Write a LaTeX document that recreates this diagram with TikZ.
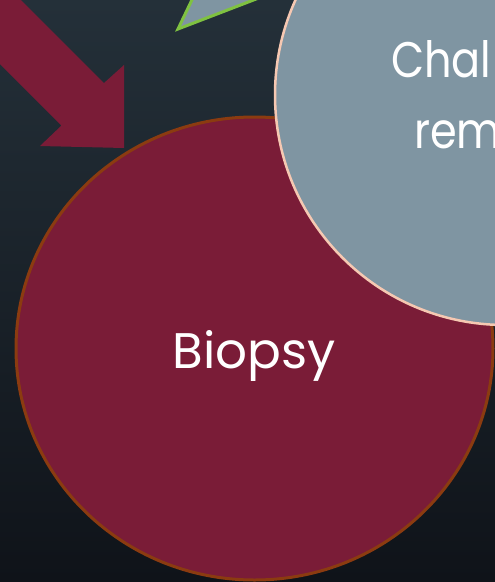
\documentclass[tikz,border=0pt]{standalone}
\usepackage{fontspec}
\setmainfont{Poppins}
\usetikzlibrary{shapes.geometric}
\definecolor{bgtop}{HTML}{243039}
\definecolor{bgbot}{HTML}{0F1319}
\definecolor{wine}{HTML}{7A1C37}
\definecolor{rust}{HTML}{8B3B10}
\definecolor{slate}{HTML}{7F95A2}
\definecolor{peach}{HTML}{F6C8B2}
\definecolor{leaf}{HTML}{7FC241}
\begin{document}
\begin{tikzpicture}[x=1pt, y=-1pt, line join=miter,
    bubble/.style={ellipse, inner sep=0pt, font=\fontsize{50}{60}\selectfont, text=white},
    word/.style={anchor=base west, inner sep=0pt, font=\fontsize{50}{60}\selectfont, text=white}]
    \useasboundingbox (0,0) rectangle (495,582);
    \clip (0,0) rectangle (495,582);
    \fill[top color=bgtop, bottom color=bgbot] (0,0) rectangle (495,582);
    % arrows behind the circles
    \fill[wine] (-40,-61) -- (104,83) -- (124,65) -- (124,148) -- (40,146) -- (61.5,125.5) -- (-80,-16) -- cycle;
    \draw[leaf, line width=3pt, fill=slate] (178,29) -- (200,-17) -- (290,-14) -- cycle;
    % circles
    \node[bubble, draw=rust, line width=3pt, fill=wine, minimum width=477pt, minimum height=463pt] (biopsy) at (254.5,348.5) {};
    \node[bubble, draw=peach, line width=2.5pt, fill=slate, minimum width=460pt, minimum height=460pt] (chal) at (505,95) {};
    \node[bubble] (biopsytext) at (254,356) {Biopsy};
    \node[word] (chaltext) at (391,77) {\scalebox{0.86}[1]{Chal}};
    \node[word] (remtext) at (414,148) {\scalebox{0.86}[1]{rem}};
\end{tikzpicture}
\end{document}
